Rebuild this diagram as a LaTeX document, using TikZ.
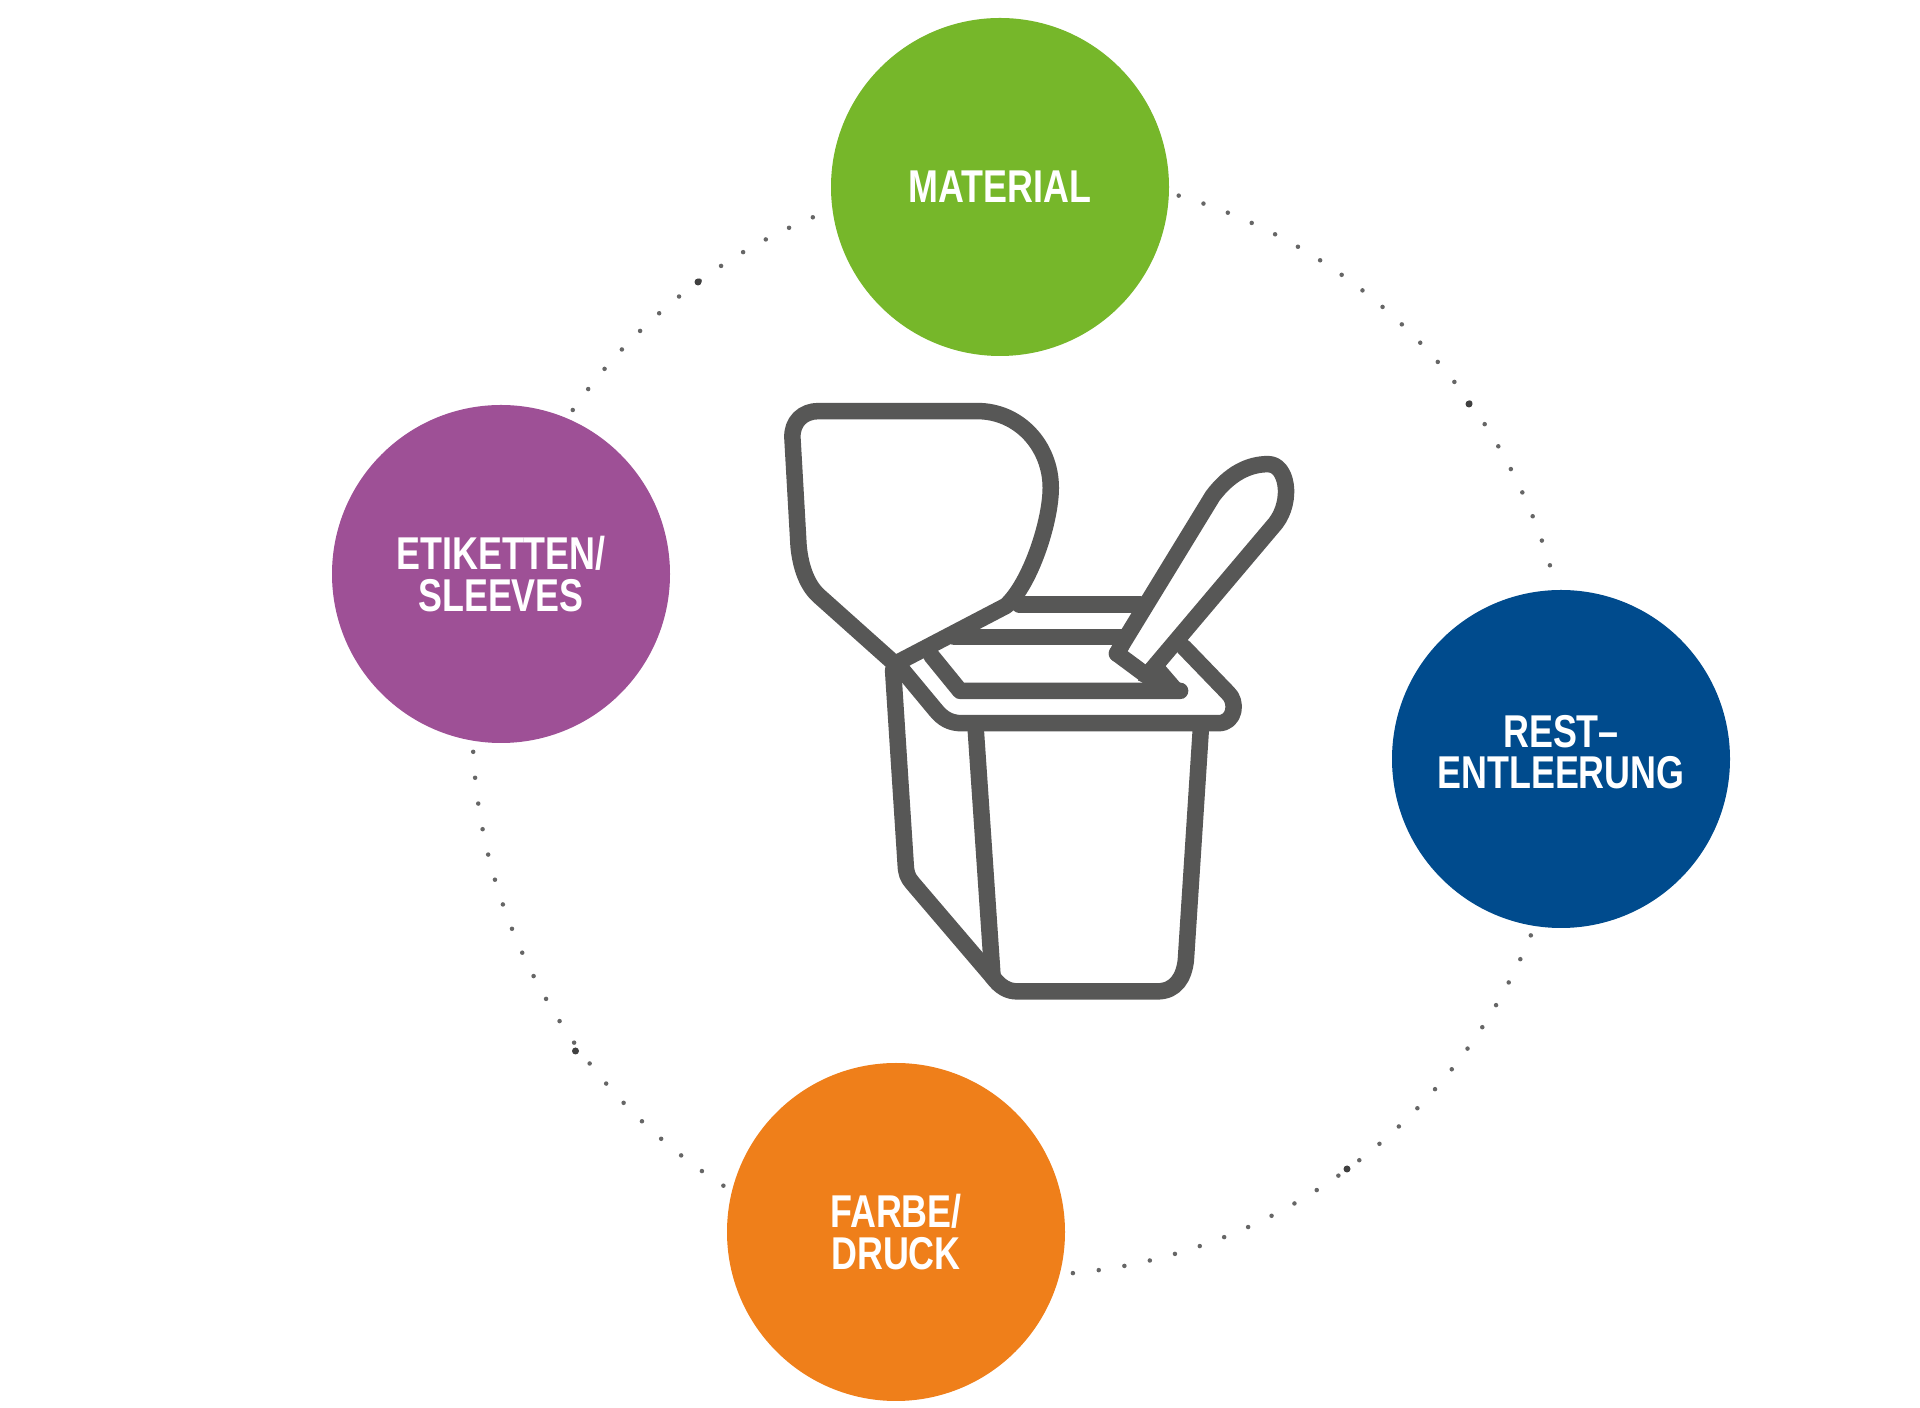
\documentclass[tikz,border=0pt]{standalone}
\usepackage{fontspec}
\setmainfont[FakeStretch=0.78]{Liberation Sans}
\definecolor{cgreen}{HTML}{76B72A}
\definecolor{cpurple}{HTML}{9E5096}
\definecolor{cblue}{HTML}{004B8D}
\definecolor{corange}{HTML}{EF7F1A}
\definecolor{cgray}{HTML}{575756}
\definecolor{cdot}{HTML}{666666}
\tikzset{
  topic/.style={circle,minimum size=338pt,inner sep=0pt,text=white,align=center,font=\bfseries\fontsize{46}{41.5}\selectfont},
  topictext/.style={inner sep=0pt,text=white,align=center,font=\bfseries\fontsize{46}{41.5}\selectfont},
  ringdots/.style={cdot,line width=4.5pt,line cap=round,dash pattern=on 0pt off 26pt,dash phase=16pt},
  heavydot/.style={circle,fill=black!75,inner sep=0pt,minimum size=7pt},
  cupline/.style={cgray,line width=16.5pt,line join=round,line cap=round}
}
\begin{document}
\begin{tikzpicture}[x=1pt,y=1pt]
\useasboundingbox (0,0) rectangle (1920,1408);
\fill[white] (0,0) rectangle (1920,1408);
\node[topic,fill=cgreen] (mat) at (1000,1221) {MATERIAL};
\node[topic,fill=cpurple] (eti) at (501,834) {ETIKETTEN/\\SLEEVES};
\node[topic,fill=cblue] (res) at (1561,649) {};
\node[topictext] (restxt) at (1561,656) {REST–\\ENTLEERUNG};
\node[topic,fill=corange] (far) at (896,176) {FARBE/\\DRUCK};
\draw[ringdots] (mat.-2.6) arc[start angle=74.6,end angle=14.2,radius=550];
\draw[ringdots] (res.261) arc[start angle=-21.4,end angle=-86.1,radius=550];
\draw[ringdots] (far.166.3) arc[start angle=238.1,end angle=181.65,radius=550];
\draw[ringdots] (eti.67.3) arc[start angle=146.05,end angle=110.2,radius=550];
\node[heavydot] (d1) at (698,1126) {};
\node[heavydot] (d2) at (1469,1004) {};
\node[heavydot] (d3) at (1347,239) {};
\node[heavydot] (d4) at (575.5,357) {};
\begin{scope}[x=0.3827pt,y=-0.4145pt,xshift=740pt,yshift=1028pt]
\draw[cupline] (405,685) -- (205,520) .. controls (170,490) and (157,440) .. (153,400) -- (137,140) .. controls (135,100) and (165,75) .. (205,75) -- (620,75) .. controls (730,75) and (812,160) .. (812,260) .. controls (812,340) and (760,490) .. (695,545) -- cycle;
\draw[cupline] (400,700) -- (433,1170) .. controls (434,1190) and (438,1200) .. (450,1213) -- (660,1440) .. controls (680,1465) and (700,1475) .. (725,1475) -- (1090,1475) .. controls (1140,1475) and (1160,1440) .. (1165,1400) -- (1205,830);
\draw[cupline] (615,830) -- (660,1440);
\draw[cupline] (420,695) -- (510,795) .. controls (530,818) and (550,828) .. (580,828) -- (1250,828) .. controls (1295,828) and (1300,775) .. (1275,755) -- (1160,645);
\draw[cupline] (500,665) -- (575,750) -- (1150,750);
\draw[cupline] (560,620) -- (1000,620);
\draw[cupline] (730,542) -- (1045,542);
\fill[cgray] (1040,725) -- (1160,768) -- (1168,750) -- (1110,688) -- (1070,688) -- cycle;
\draw[cupline] (985,660) -- (1080,725);
\draw[cupline] (985,660) -- (1000,635) -- (1235,280) .. controls (1280,225) and (1330,203) .. (1380,203) .. controls (1430,203) and (1445,290) .. (1400,345) -- (1075,700);
\end{scope}
\end{tikzpicture}
\end{document}
